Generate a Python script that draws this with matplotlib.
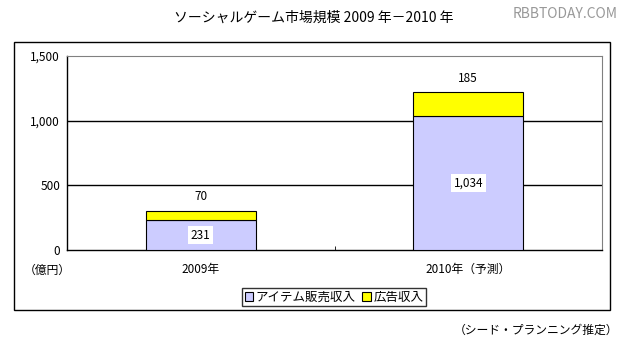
import matplotlib
matplotlib.use("Agg")
import matplotlib.pyplot as plt
from matplotlib.patches import Rectangle, Patch

plt.rcParams["font.family"] = ["Noto Sans CJK JP", "DejaVu Sans"]

# -- Data -------------------------------------------------------------------
categories = ["2009年", "2010年（予測）"]
item_sales = [231, 1034]     # アイテム販売収入
ad_revenue = [70, 185]       # 広告収入
series_names = ["アイテム販売収入", "広告収入"]
y_ticks = [0, 500, 1000, 1500]
y_tick_labels = ["0", "500", "1,000", "1,500"]

W, H = 623, 347
fig = plt.figure(figsize=(W / 100, H / 100), dpi=100)


def fx(px):
    return px / W


def fy(py):
    return 1 - py / H


# outer frame
fig.patches.append(Rectangle((fx(14), fy(310)), fx(610) - fx(14), fy(42) - fy(310),
                             transform=fig.transFigure, fill=False,
                             edgecolor="black", linewidth=1.0))

ax = fig.add_axes([fx(67), fy(250), fx(602) - fx(67), fy(56) - fy(250)])

x = list(range(len(categories)))
colors = ["#CCCCFF", "#FFFF00"]
ax.bar(x, item_sales, width=0.41, color=colors[0], edgecolor="black", linewidth=0.8, zorder=3)
ax.bar(x, ad_revenue, width=0.41, bottom=item_sales, color=colors[1],
       edgecolor="black", linewidth=0.8, zorder=3)

for xi, a, b in zip(x, item_sales, ad_revenue):
    ax.text(xi, a / 2, f"{a:,}", ha="center", va="center", fontsize=8.5, zorder=4,
            bbox=dict(facecolor="white", edgecolor="none", pad=2))
    ax.text(xi, a + b + 60, f"{b:,}", ha="center", va="bottom", fontsize=8.5)

ax.set_xlim(-0.5, 1.5)
ax.set_ylim(0, 1500)
for yv in [500, 1000]:
    ax.axhline(yv, color="black", linewidth=1.0, zorder=1)

ax.set_yticks(y_ticks)
ax.set_yticklabels(y_tick_labels, fontsize=8.5)
ax.tick_params(axis="y", direction="in", length=0, pad=5)
ax.set_xticks(x)
ax.set_xticklabels(categories, fontsize=8.5)
ax.tick_params(axis="x", length=0, pad=9)
ax.set_xticks([0.5], minor=True)
ax.tick_params(axis="x", which="minor", direction="in", length=3)

for side in ["top", "right"]:
    ax.spines[side].set_color("gray")
for side in ["left", "bottom"]:
    ax.spines[side].set_color("black")
    ax.spines[side].set_linewidth(1.0)

# texts
fig.text(fx(314), fy(18), "ソーシャルゲーム市場規模 2009 年－2010 年",
         ha="center", va="center", fontsize=10)
fig.text(fx(618), fy(14), "RBBTODAY.COM", ha="right", va="center",
         fontsize=10, color="#999999")
fig.text(fx(47), fy(270), "（億円）", ha="center", va="center", fontsize=8.5)
fig.text(fx(618), fy(330), "（シード・プランニング推定）", ha="right", va="center",
         fontsize=8.5)

handles = [Patch(facecolor=c, edgecolor="black", linewidth=0.8) for c in colors]
leg = fig.legend(handles, series_names, loc="center", bbox_to_anchor=(fx(334), fy(297)),
                 ncol=2, fontsize=9, frameon=True, fancybox=False, edgecolor="black",
                 handlelength=0.7, handleheight=0.7, handletextpad=0.2,
                 columnspacing=0.5, borderpad=0.2, borderaxespad=0)
leg.get_frame().set_linewidth(1.0)

fig.savefig("out.png", dpi=100, facecolor="white")
